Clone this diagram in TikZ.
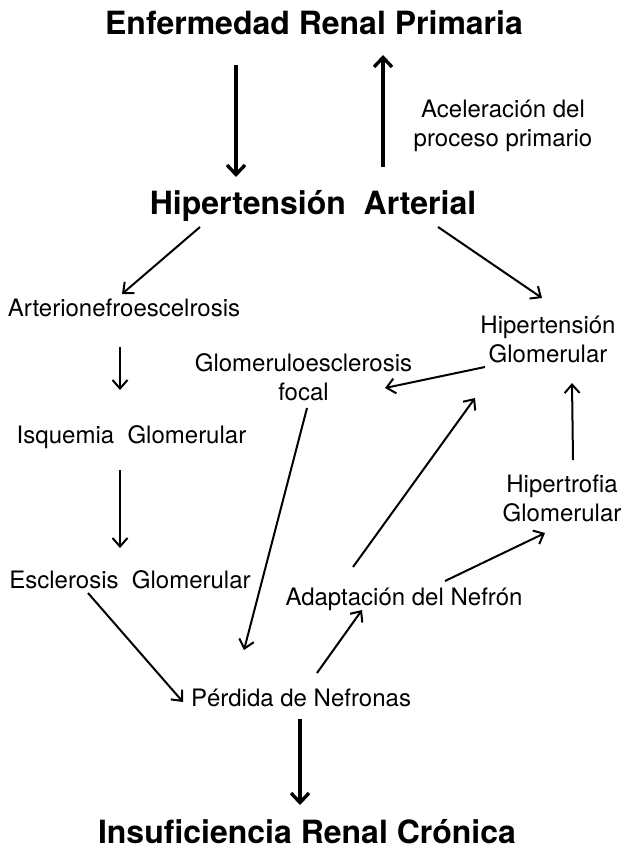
\documentclass[tikz,border=0pt]{standalone}
\usepackage{fontspec}
\setmainfont{TeX Gyre Heros}
\usetikzlibrary{arrows.meta, positioning, calc}

\begin{document}
\begin{tikzpicture}[x=1pt, y=-1pt,
  lbl/.style={inner sep=0pt, align=center, font=\fontsize{24}{29}\selectfont},
  sgl/.style={lbl, text height=17.3pt, text depth=0pt},
  ttl/.style={inner sep=0pt, text height=23pt, text depth=0pt, font=\fontsize{32}{36}\selectfont\bfseries},
  arr/.style={-{Straight Barb[length=8.5pt, width=15pt]}, line width=2pt},
  barr/.style={-{Straight Barb[length=9.5pt, width=18pt]}, line width=3.4pt}]
\useasboundingbox (0,0) rectangle (622,850);

% texts
\node[ttl] (enf) at (314,23) {Enfermedad Renal Primaria};
\node[ttl] (hta) at (313,203) {Hipertensión\ \ Arterial};
\node[lbl] (acel) at (503,126) {Aceleración del\\proceso primario};
\node[sgl] (arterio) at (124,308) {Arterionefroescelrosis};
\node[lbl] (hipglom) at (548,339) {Hipertensión\\Glomerular};
\node[lbl] (gloesc) at (303.5,377) {Glomeruloesclerosis\\focal};
\node[sgl] (isq) at (131.5,435) {Isquemia\ \ Glomerular};
\node[lbl] (hipertrofia) at (562,498) {Hipertrofia\\Glomerular};
\node[sgl] (escl) at (130,580) {Esclerosis\ \ Glomerular};
\node[sgl] (adapt) at (404,597) {Adaptación del Nefrón};
\node[sgl] (perd) at (301,698) {Pérdida de Nefronas};
\node[ttl] (irc) at (307,832) {Insuficiencia Renal Crónica};

% connectors
\draw[barr] ($(enf)+(-78,42)$) -- ($(hta)+(-77,-26)$);
\draw[barr] ($(hta)+(70,-36)$) -- ($(enf)+(69,32)$);
\draw[arr] ($(hta)+(-113,24)$) -- ($(arterio)+(-2,-14)$);
\draw[arr] ($(hta)+(125,24)$) -- ($(hipglom)+(-6,-41)$);
\draw[arr] ($(hipglom)+(-63,28)$) -- ($(gloesc)+(81.5,11)$);
\draw[arr] ($(arterio)+(-4,39)$) -- ($(isq)+(-11.5,-45)$);
\draw[arr] ($(isq)+(-11.5,35)$) -- ($(escl)+(-10,-32)$);
\draw[arr] ($(hipertrofia)+(11,-38)$) -- ($(hipglom)+(24,44)$);
\draw[arr] ($(adapt)+(-51,-30)$) -- ($(hipglom)+(-73,59)$);
\draw[arr] ($(adapt)+(41,-16)$) -- ($(hipertrofia)+(-17,35)$);
\draw[arr] ($(gloesc)+(3.5,31)$) -- ($(perd)+(-57,-48)$);
\draw[arr] ($(escl)+(-42,13)$) -- ($(perd)+(-118,4)$);
\draw[arr] ($(perd)+(16,-25)$) -- ($(adapt)+(-42,13)$);
\draw[barr] ($(perd)+(-1,21)$) -- ($(irc)+(-7,-27)$);
\end{tikzpicture}
\end{document}
